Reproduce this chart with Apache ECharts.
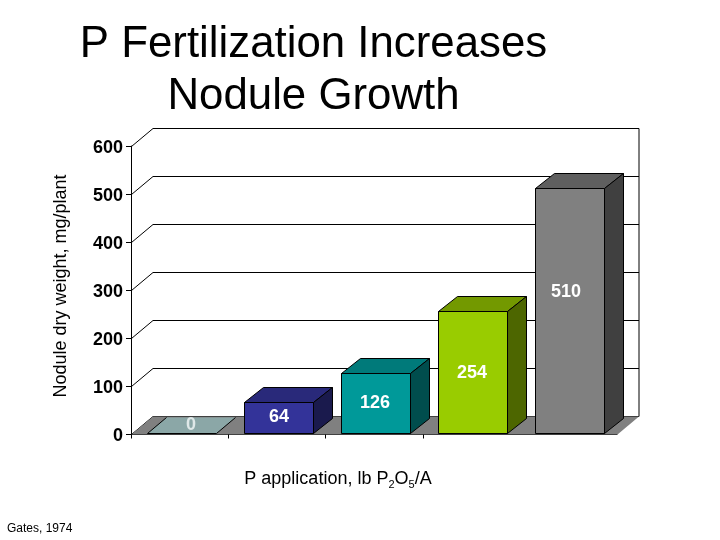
<!DOCTYPE html>
<html>
<head>
<meta charset="utf-8">
<style>
  html, body { margin: 0; padding: 0; background: #fff; }
  #chart { width: 720px; height: 540px; }
</style>
<script src="https://cdn.jsdelivr.net/npm/echarts@6/dist/echarts.min.js"></script>
</head>
<body>
<div id="chart"></div>
<script>
const categories = ["rate 1", "rate 2", "rate 3", "rate 4", "rate 5"];
const noduleWeight = [0, 64, 126, 254, 510];
const yTicks = [0, 100, 200, 300, 400, 500, 600];

const fontName = "'Liberation Sans', Arial, sans-serif";

// 3d look: wall depth and bar depth, in px
const wallDx = 21.5, wallDy = 18;
const barDx = 19, barDy = 15;
const barWidth = 69, barShift = 1.5;

// front, top, side
const barColors = [
  ["#8ba7a7", "#8ba7a7", "#8ba7a7"],
  ["#333399", "#29297a", "#1a1a4d"],
  ["#009999", "#007a7a", "#004d4d"],
  ["#99cc00", "#739900", "#4d6600"],
  ["#808080", "#5f5f5f", "#404040"],
];
const labelColors = ["#dfe8e8", "#ffffff", "#ffffff", "#ffffff", "#ffffff"];
// the labels do not sit exactly in the middle of the bars
const labelNudge = [[9, -8], [0, -1], [-1, 0], [-1, 1], [-4, -19]];

function px(v) {
  return Math.round(v) + 0.5;
}

function poly(points, fill) {
  return {
    type: "polygon",
    shape: { points: points },
    style: { fill: fill, stroke: "#000", lineWidth: 1 },
  };
}

function edge(x1, y1, x2, y2) {
  return {
    type: "line",
    shape: { x1: x1, y1: y1, x2: x2, y2: y2 },
    style: { stroke: "#000", lineWidth: 1 },
  };
}

function renderWall(params, api) {
  const cs = params.coordSys;
  const y = px(api.coord([0, api.value(0)])[1]);
  const left = px(cs.x), right = px(cs.x + cs.width);
  return {
    type: "group",
    children: [
      {
        type: "polyline",
        shape: { points: [[left, y], [left + wallDx, y - wallDy], [right + wallDx, y - wallDy]] },
        style: { fill: null, stroke: "#000", lineWidth: 1 },
      },
    ],
  };
}

function renderBox(params, api) {
  const cs = params.coordSys;
  const left = px(cs.x), right = px(cs.x + cs.width);
  const top = px(cs.y), bottom = px(cs.y + cs.height);
  const children = [
    edge(right + wallDx, top - wallDy, right + wallDx, bottom - wallDy),
    {
      type: "polygon",
      shape: {
        points: [[left, bottom], [left + wallDx, bottom - wallDy], [right + wallDx, bottom - wallDy], [right, bottom]],
      },
      style: { fill: "#808080" },
    },
  ];
  // the picture has x ticks only at the first four category boundaries
  const step = cs.width / categories.length;
  for (let k = 0; k < 4; k++) {
    const x = px(cs.x + step * k);
    children.push(edge(x, bottom, x, bottom + 4));
  }
  return { type: "group", children: children };
}

function renderBar(params, api) {
  const i = api.value(0);
  const v = api.value(1);
  const pt = api.coord([i, v]);
  const x0 = Math.round(pt[0] + barShift - barWidth / 2) + 0.5;
  const x1 = x0 + barWidth;
  const yBase = px(api.coord([i, 0])[1]) - 1;
  const yTop = Math.min(px(pt[1]) - 1, yBase);
  const c = barColors[i];
  const children = [];
  if (v > 0) {
    children.push(
      poly([[x0, yBase], [x1, yBase], [x1, yTop], [x0, yTop]], c[0]),
      poly([[x0, yTop], [x0 + barDx, yTop - barDy], [x1 + barDx, yTop - barDy], [x1, yTop]], c[1]),
      poly([[x1, yBase], [x1, yTop], [x1 + barDx, yTop - barDy], [x1 + barDx, yBase - barDy]], c[2])
    );
  } else {
    // flat bar: only its two slanted edges and the bottom edge are drawn
    const dy = barDy + 1;
    children.push(
      {
        type: "polygon",
        shape: { points: [[x0, yBase], [x0 + barDx, yBase - dy], [x1 + barDx, yBase - dy], [x1, yBase]] },
        style: { fill: c[1] },
      },
      edge(x0, yBase, x1, yBase),
      edge(x0, yBase, x0 + barDx, yBase - dy),
      edge(x1, yBase, x1 + barDx, yBase - dy)
    );
  }
  children.push({
    type: "text",
    z2: 10,
    style: {
      text: String(v),
      x: (x0 + x1) / 2 + labelNudge[i][0],
      y: (yTop + yBase) / 2 + labelNudge[i][1],
      align: "center",
      verticalAlign: "middle",
      fill: labelColors[i],
      font: "bold 18px " + fontName,
    },
  });
  return { type: "group", children: children };
}

const chart = echarts.init(document.getElementById("chart"), null, { renderer: "canvas" });
chart.setOption({
  animation: false,
  backgroundColor: "#fff",
  title: [
    {
      text: "P Fertilization Increases\nNodule Growth",
      left: 313.5,
      top: 19,
      padding: 0,
      textAlign: "center",
      textStyle: { fontFamily: fontName, fontSize: 43.8, fontWeight: "normal", color: "#000", lineHeight: 52 },
    },
    {
      text: "Gates, 1974",
      left: 7,
      top: 522,
      padding: 0,
      textStyle: { fontFamily: fontName, fontSize: 12, fontWeight: "normal", color: "#000", lineHeight: 14 },
    },
  ],
  grid: { left: 131, right: 103, top: 146, height: 288, containLabel: false },
  xAxis: {
    type: "category",
    data: categories,
    axisLine: { lineStyle: { color: "#000", width: 1 } },
    axisTick: { show: false },
    axisLabel: { show: false },
    splitLine: { show: false },
  },
  yAxis: {
    type: "value",
    min: 0,
    max: 600,
    interval: 100,
    axisLine: { show: true, lineStyle: { color: "#000", width: 1 } },
    axisTick: { show: true, length: 5, lineStyle: { color: "#000" } },
    axisLabel: {
      margin: 8,
      formatter: "{v|{value}}",
      rich: {
        v: { color: "#000", fontFamily: fontName, fontSize: 18, fontWeight: "bold", padding: [4, 0, 0, 0] },
      },
    },
    splitLine: { show: false },
  },
  graphic: [
    {
      type: "text",
      x: 61,
      y: 286,
      rotation: Math.PI / 2,
      style: {
        text: "Nodule dry weight, mg/plant",
        font: "18px " + fontName,
        fill: "#000",
        align: "center",
        verticalAlign: "middle",
      },
    },
    {
      type: "text",
      x: 338,
      y: 479,
      style: {
        text: "{a|P application, lb P}{s|2}{a|O}{s|5}{a|/A}",
        align: "center",
        verticalAlign: "middle",
        rich: {
          a: { font: "18px " + fontName, fill: "#000", lineHeight: 22, verticalAlign: "middle" },
          s: { font: "11px " + fontName, fill: "#000", lineHeight: 22, verticalAlign: "bottom" },
        },
      },
    },
  ],
  series: [
    {
      type: "custom",
      coordinateSystem: "cartesian2d",
      renderItem: renderWall,
      data: yTicks,
      encode: { y: 0 },
      silent: true,
      z: 1,
    },
    {
      type: "custom",
      coordinateSystem: "cartesian2d",
      renderItem: renderBox,
      data: [0],
      silent: true,
      z: 2,
    },
    {
      type: "custom",
      coordinateSystem: "cartesian2d",
      renderItem: renderBar,
      data: noduleWeight.map((v, i) => [i, v]),
      encode: { x: 0, y: 1 },
      silent: true,
      z: 3,
    },
  ],
});
</script>
</body>
</html>
